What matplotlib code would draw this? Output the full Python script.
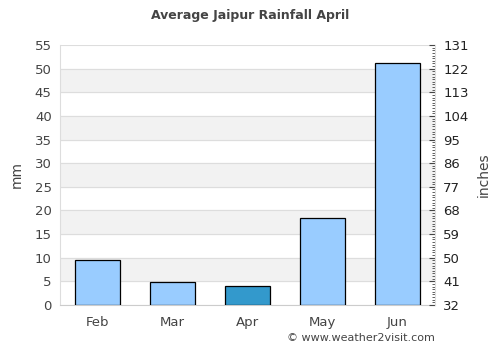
import matplotlib
matplotlib.use('Agg')
import matplotlib.pyplot as plt
import numpy as np

months = ['Feb', 'Mar', 'Apr', 'May', 'Jun']
rain_mm = [9.5, 4.9, 4.0, 18.4, 51.1]
highlight = 'Apr'
right_ticks = list(range(32, 132, 9))

fig = plt.figure(figsize=(5, 3.5), dpi=100)
ax = fig.add_axes([0.12, 0.1286, 0.75, 0.7428])

# alternating bands
for lo in range(5, 55, 10):
    ax.axhspan(lo, lo + 5, color='#f2f2f2', zorder=0)
for y in range(0, 56, 5):
    ax.axhline(y, color='#dddddd', lw=0.8, zorder=1)

x = np.arange(len(months))
colors = ['#3399cc' if m == highlight else '#99ccff' for m in months]
ax.bar(x, rain_mm, width=0.6, color=colors, edgecolor='black', linewidth=0.9, zorder=3)

ax.set_xlim(-0.5, len(months) - 0.5)
ax.set_ylim(0, 55)
ax.set_yticks(range(0, 56, 5))
ax.set_xticks(x)
ax.set_xticklabels(months)
ax.tick_params(axis='both', length=0, labelsize=9.5, labelcolor='#444444', pad=6)
ax.tick_params(axis='x', pad=8)
for s in ['top', 'right']:
    ax.spines[s].set_visible(False)
ax.spines['left'].set_color('#dddddd')
ax.spines['bottom'].set_color('#cccccc')
ax.set_ylabel('mm', fontsize=10, color='#444444', labelpad=8)

ax2 = ax.twinx()
ax2.set_ylim(32, 131)
ax2.set_yticks(right_ticks)
ax2.set_yticks(range(32, 132), minor=True)
ax2.tick_params(axis='y', which='major', direction='in', length=4, color='#444444',
                labelsize=9.5, labelcolor='#222222', pad=6)
ax2.tick_params(axis='y', which='minor', direction='in', length=2, color='#444444')
for s in ['top', 'left', 'bottom']:
    ax2.spines[s].set_visible(False)
ax2.spines['right'].set_color('#dddddd')
ax2.set_ylabel('inches', fontsize=10, color='#444444', labelpad=6)

fig.text(0.5, 0.955, 'Average Jaipur Rainfall April', ha='center', va='center',
         fontsize=9, fontweight='bold', color='#444444')
fig.text(0.87, 0.035, '\u00a9 www.weather2visit.com', ha='right', va='center',
         fontsize=8, color='#444444')

fig.savefig('out.png', dpi=100)
